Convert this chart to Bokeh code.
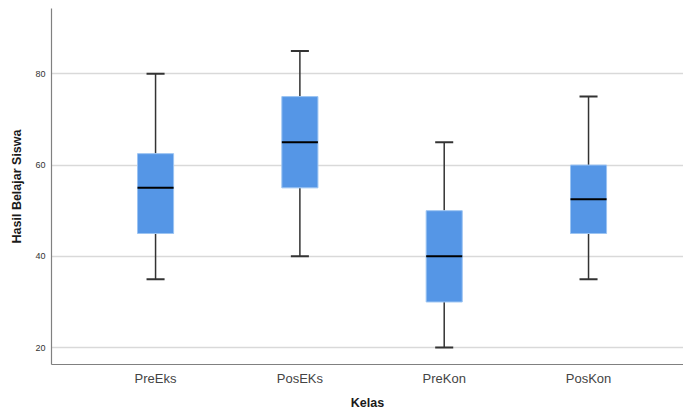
from bokeh.plotting import figure
from bokeh.models import Range1d, FixedTicker, ColumnDataSource
from bokeh.embed import file_html
from bokeh.resources import INLINE

categories = ["PreEks", "PosEKs", "PreKon", "PosKon"]
mins = [35, 40, 20, 35]
q1s = [45, 55, 30, 45]
medians = [55, 65, 40, 52.5]
q3s = [62.5, 75, 50, 60]
maxs = [80, 85, 65, 75]
y_ticks = [20, 40, 60, 80]

xs = list(range(1, len(categories) + 1))
box_w = 0.25
cap_w = 0.125

src = ColumnDataSource(dict(
    x=xs, lo=mins, q1=q1s, med=medians, q3=q3s, hi=maxs,
    bl=[x - box_w / 2 for x in xs], br=[x + box_w / 2 for x in xs],
    cl=[x - cap_w / 2 for x in xs], cr=[x + cap_w / 2 for x in xs],
))

p = figure(width=683, height=412, output_backend="svg", toolbar_location=None,
           x_range=Range1d(0.279, 4.658), y_range=Range1d(16.3, 94.3),
           min_border_left=51, min_border_top=8, min_border_right=0, min_border_bottom=48)
p.outline_line_color = None
p.background_fill_color = "white"
p.border_fill_color = "white"

# whiskers
p.segment(x0="x", x1="x", y0="q3", y1="hi", source=src, line_color="#333333", line_width=1.5)
p.segment(x0="x", x1="x", y0="lo", y1="q1", source=src, line_color="#333333", line_width=1.5)
p.segment(x0="cl", x1="cr", y0="hi", y1="hi", source=src, line_color="#333333", line_width=2)
p.segment(x0="cl", x1="cr", y0="lo", y1="lo", source=src, line_color="#333333", line_width=2)
# boxes
p.vbar(x="x", width=box_w, bottom="q1", top="q3", source=src,
       fill_color="#5596E6", line_color="#9cc4f2", line_width=1)
# medians
p.segment(x0="bl", x1="br", y0="med", y1="med", source=src, line_color="black", line_width=2)

p.xgrid.grid_line_color = None
p.ygrid.grid_line_color = "#d9d9d9"
p.ygrid.grid_line_width = 1.5

p.yaxis.ticker = FixedTicker(ticks=y_ticks)
p.xaxis.ticker = FixedTicker(ticks=xs)
p.xaxis.major_label_overrides = {x: c for x, c in zip(xs, categories)}

for ax in (p.xaxis, p.yaxis):
    ax.axis_line_color = "#808080"
    ax.axis_line_width = 1.2
    ax.major_tick_line_color = None
    ax.minor_tick_line_color = None
    ax.major_tick_out = 0
    ax.major_tick_in = 0
    ax.major_label_text_font = "Liberation Sans"
    ax.axis_label_text_font = "Liberation Sans"
    ax.axis_label_text_font_style = "bold"
    ax.axis_label_text_font_size = "12.5px"
    ax.axis_label_text_color = "#1a1a1a"

p.yaxis.major_label_text_font_size = "9px"
p.yaxis.major_label_text_color = "#333333"
p.yaxis.major_label_standoff = 6
p.yaxis.axis_label = "Hasil Belajar Siswa"
p.yaxis.axis_label_standoff = 8

p.xaxis.major_label_text_font_size = "13px"
p.xaxis.major_label_text_color = "#444444"
p.xaxis.major_label_standoff = 6
p.xaxis.axis_label = "Kelas"
p.xaxis.axis_label_standoff = 7

open("out.html", "w").write(file_html(p, INLINE))
